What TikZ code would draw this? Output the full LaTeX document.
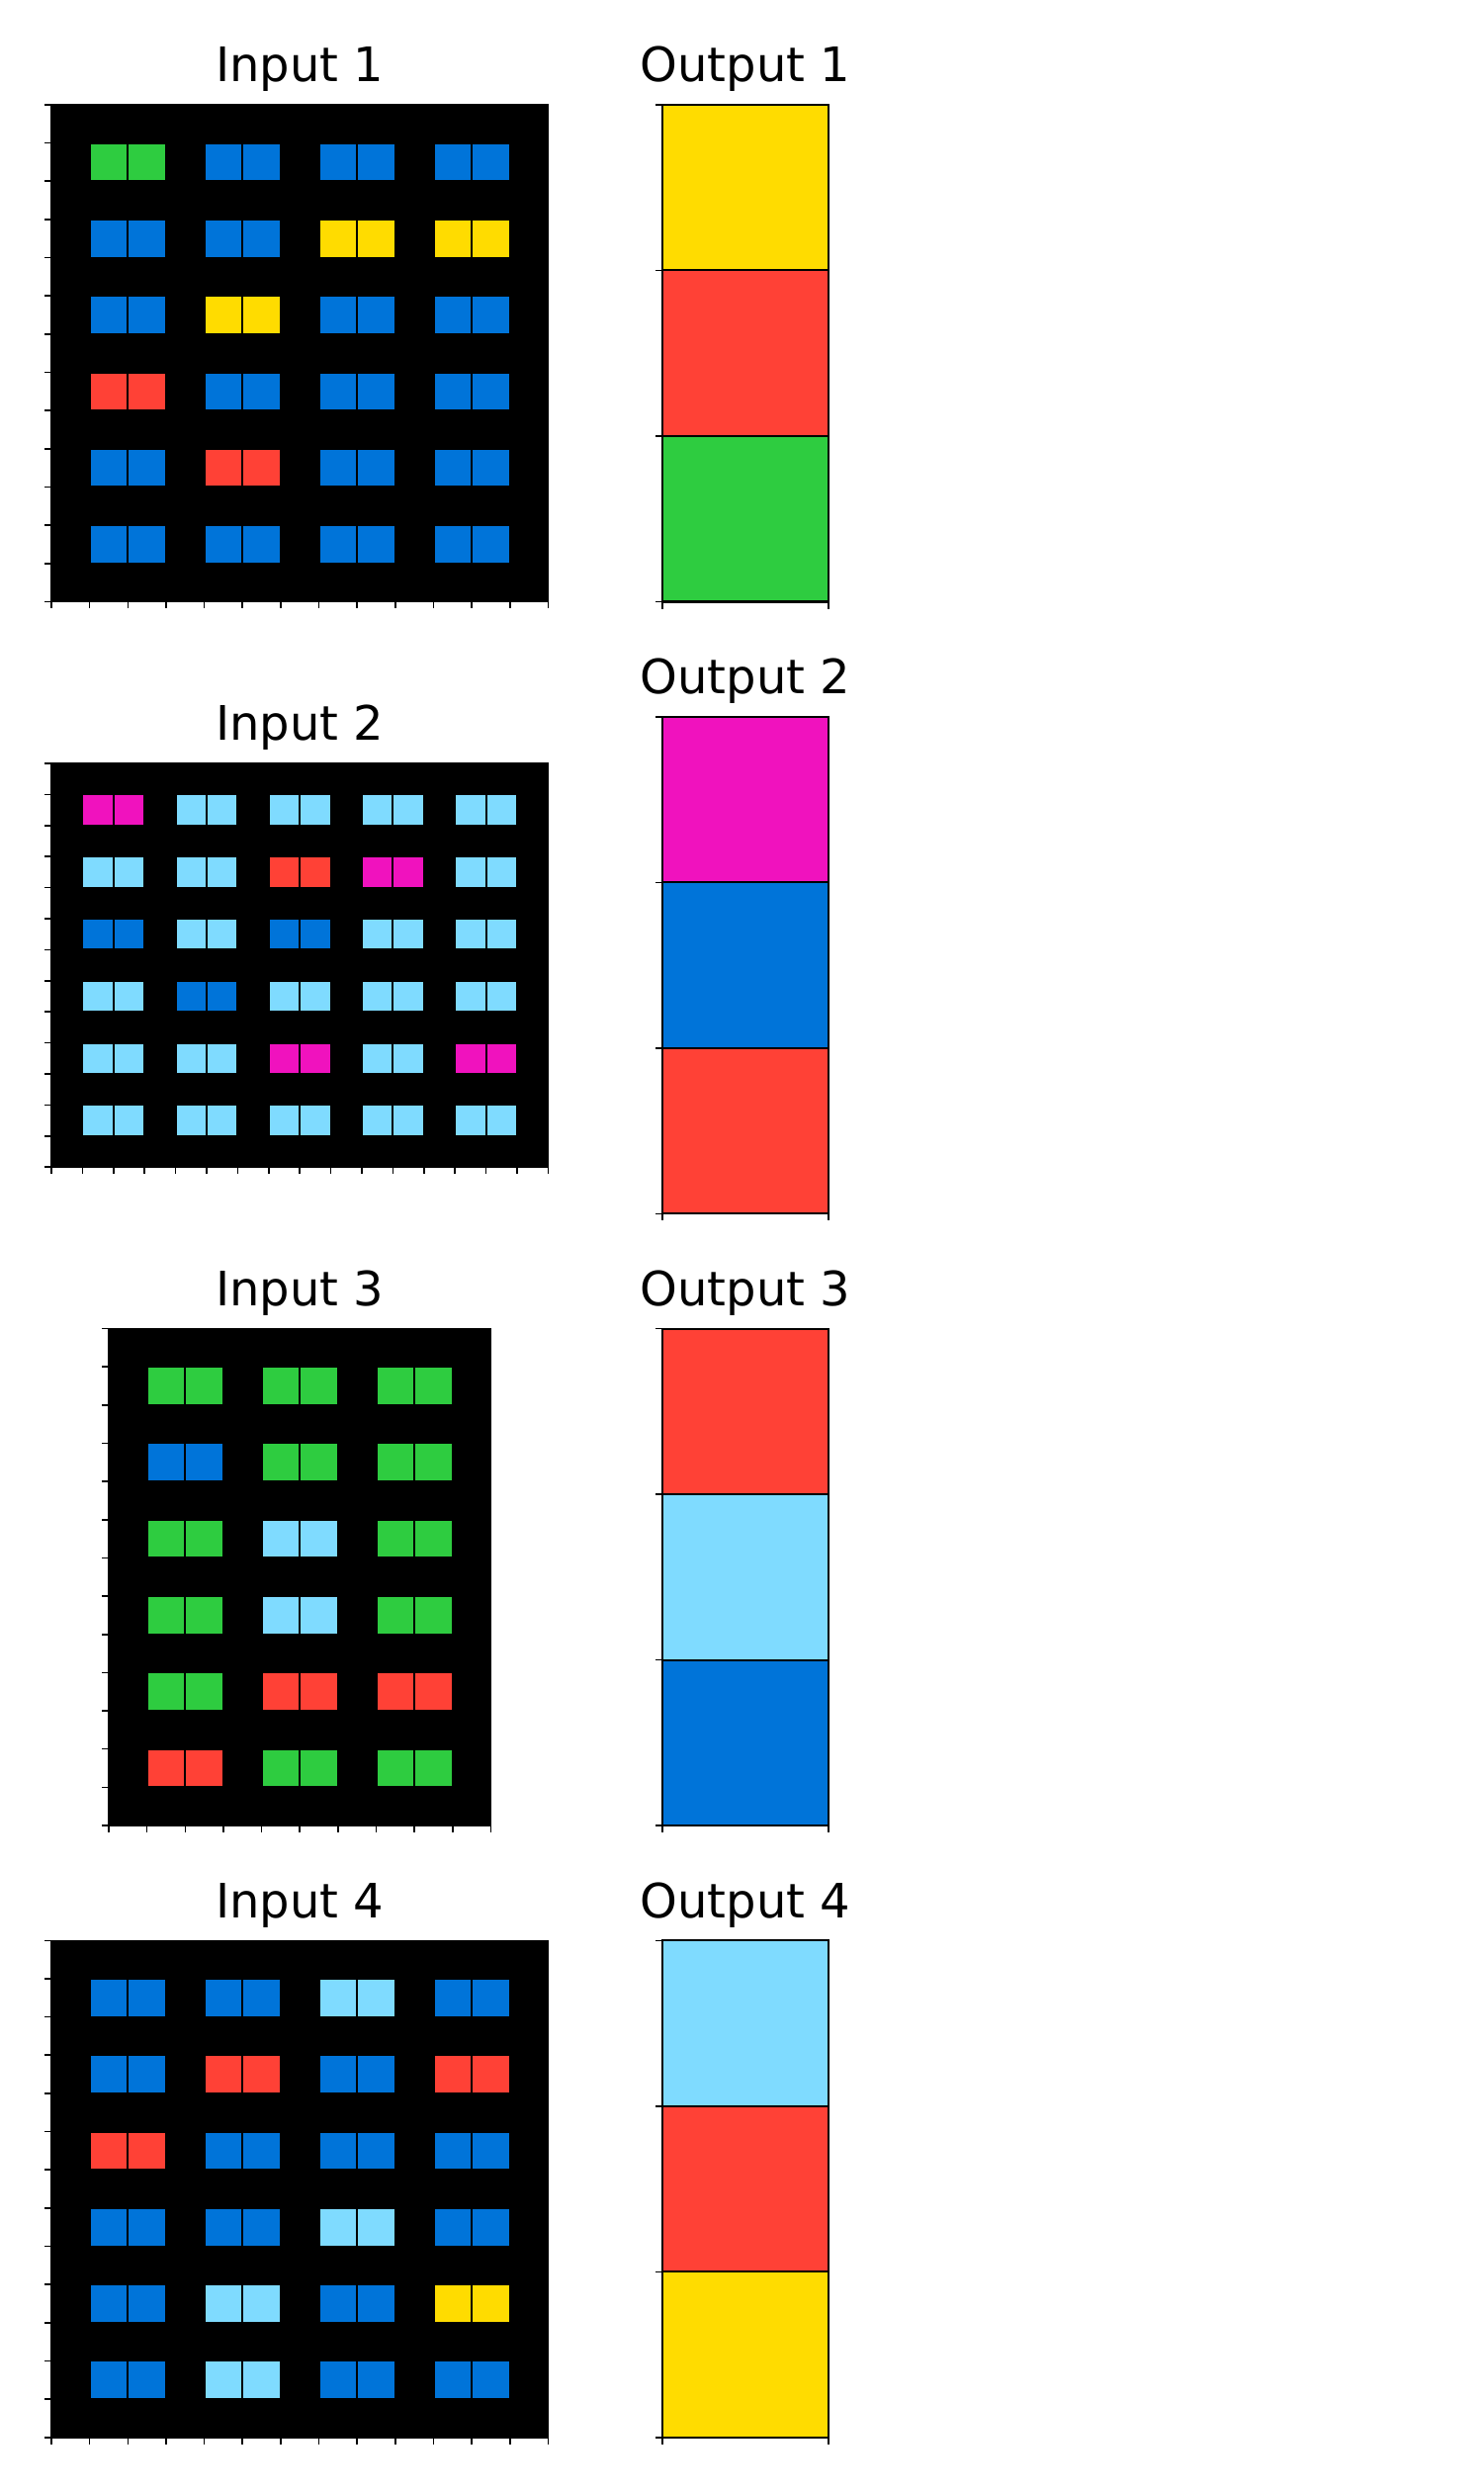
\documentclass[tikz,border=0pt]{standalone}
\usepackage{fontspec}
\setmainfont{DejaVu Sans}
\definecolor{cB}{HTML}{0074D9}
\definecolor{cR}{HTML}{FF4136}
\definecolor{cG}{HTML}{2ECC40}
\definecolor{cY}{HTML}{FFDC00}
\definecolor{cM}{HTML}{F012BE}
\definecolor{cL}{HTML}{7FDBFF}
\newcommand{\drawin}[5]{% x0, y0, cell, ncols, nrows
  \fill[black] (#1,#2) rectangle ++({#4*#3},{#5*#3});
  \draw[spine] (#1,#2) rectangle ++({#4*#3},{#5*#3});
  \foreach \i in {0,...,#5} \draw[tickmark] (#1,{#2+\i*#3}) -- ++(-7,0);
  \foreach \j in {0,...,#4} \draw[tickmark] ({#1+\j*#3},{#2+#5*#3}) -- ++(0,7);
}
\newcommand{\drawblocks}[4]{% x0, y0, cell, rows
  \foreach \row [count=\r from 0] in {#4} {
    \foreach \col [count=\c from 0] in \row {
      \filldraw[cellbox, fill=\col] ({#1+(3*\c+1)*#3},{#2+(2*\r+1)*#3}) rectangle ++(#3,#3);
      \filldraw[cellbox, fill=\col] ({#1+(3*\c+2)*#3},{#2+(2*\r+1)*#3}) rectangle ++(#3,#3);
    }
  }
}
\newcommand{\drawout}[4]{% x0, y0, cell, colours
  \foreach \cc [count=\k from 0] in {#4}
    \filldraw[cellbox, fill=\cc] (#1,{#2+\k*#3}) rectangle ++(#3,#3);
  \draw[cellbox] (#1,#2) rectangle ++(#3,{3*#3});
  \foreach \i in {0,...,3} \draw[tickmark] (#1,{#2+\i*#3}) -- ++(-7,0);
  \foreach \j in {0,1} \draw[tickmark] ({#1+\j*#3},{#2+3*#3}) -- ++(0,7);
}
\begin{document}
\begin{tikzpicture}[x=0.5pt,y=-0.5pt,
  tickmark/.style={line width=0.8pt, black},
  spine/.style={line width=0.8pt, black},
  cellbox/.style={draw=black, line width=1pt},
  title/.style={anchor=base, font=\fontsize{24}{28}\selectfont, inner sep=0pt}]
\useasboundingbox (0,0) rectangle (1500,2519);

% Row 1
\drawin{52}{106}{38.65}{13}{13}
\drawblocks{52}{106}{38.65}{{cG,cB,cB,cB},{cB,cB,cY,cY},{cB,cY,cB,cB},{cR,cB,cB,cB},{cB,cR,cB,cB},{cB,cB,cB,cB}}
\node[title] (tin1) at (303.25,83) {Input 1};
\drawout{670.25}{106}{167.5}{cY,cR,cG}
\node[title] (tout1) at (754,83) {Output 1};

% Row 2
\drawin{52}{771.9}{31.406}{16}{13}
\drawblocks{52}{771.9}{31.406}{{cM,cL,cL,cL,cL},{cL,cL,cR,cM,cL},{cB,cL,cB,cL,cL},{cL,cB,cL,cL,cL},{cL,cL,cM,cL,cM},{cL,cL,cL,cL,cL}}
\node[title] (tin2) at (303.25,748.9) {Input 2};
\drawout{670.25}{724.8}{167.5}{cM,cB,cR}
\node[title] (tout2) at (754,701.8) {Output 2};

% Row 3
\drawin{110}{1343.5}{38.65}{10}{13}
\drawblocks{110}{1343.5}{38.65}{{cG,cG,cG},{cB,cG,cG},{cG,cL,cG},{cG,cL,cG},{cG,cR,cR},{cR,cG,cG}}
\node[title] (tin3) at (303.25,1320.5) {Input 3};
\drawout{670.25}{1343.5}{167.5}{cR,cL,cB}
\node[title] (tout3) at (754,1320.5) {Output 3};

% Row 4
\drawin{52}{1962.3}{38.65}{13}{13}
\drawblocks{52}{1962.3}{38.65}{{cB,cB,cL,cB},{cB,cR,cB,cR},{cR,cB,cB,cB},{cB,cB,cL,cB},{cB,cL,cB,cY},{cB,cL,cB,cB}}
\node[title] (tin4) at (303.25,1939.3) {Input 4};
\drawout{670.25}{1962.3}{167.5}{cL,cR,cY}
\node[title] (tout4) at (754,1939.3) {Output 4};
\end{tikzpicture}
\end{document}
